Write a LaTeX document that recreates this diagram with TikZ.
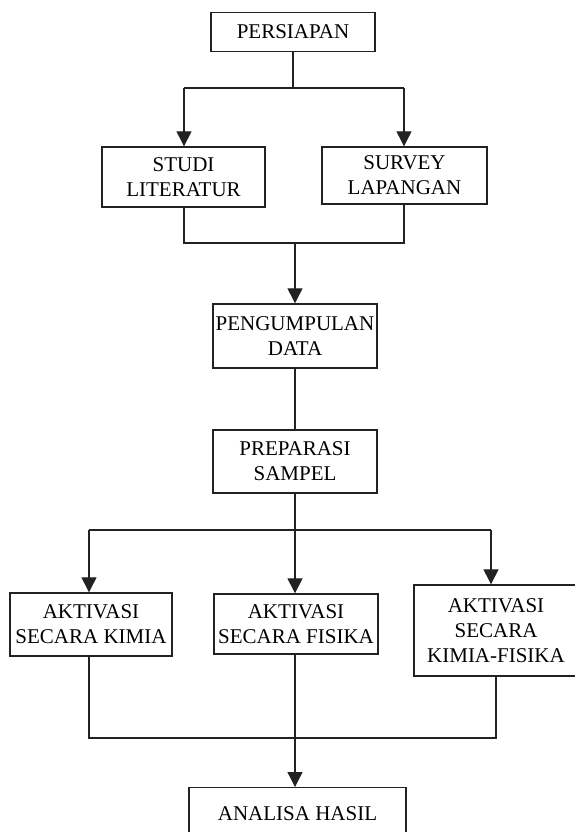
\documentclass[tikz,border=0pt]{standalone}
\usepackage{fontspec}
\setmainfont{Liberation Serif}
\usetikzlibrary{arrows.meta}
\definecolor{ink}{HTML}{222222}
\begin{document}
\begin{tikzpicture}[x=1pt,y=-1pt,
  box/.style={draw=ink,line width=1.4pt,rectangle,align=center,inner sep=0pt,
    font=\fontsize{21}{25}\selectfont,text=black},
  ln/.style={draw=ink,line width=1.3pt},
  arr/.style={ln,-{Triangle[length=15pt,width=15pt]}}]
\useasboundingbox (0,0) rectangle (575,832);
\fill[white] (0,0) rectangle (575,832);
% boxes
\node[box,minimum width=164pt,minimum height=39pt] (persiapan) at (293,32) {PERSIAPAN};
\node[box,minimum width=163pt,minimum height=60pt] (studi) at (183.5,177) {STUDI\\LITERATUR};
\node[box,minimum width=165pt,minimum height=57pt] (survey) at (404.5,175.5) {SURVEY\\LAPANGAN};
\node[box,minimum width=164pt,minimum height=64pt] (pengumpulan) at (295,336) {PENGUMPULAN\\DATA};
\node[box,minimum width=164pt,minimum height=63pt] (preparasi) at (295,461.5) {PREPARASI\\SAMPEL};
\node[box,minimum width=162pt,minimum height=63pt] (kimia) at (91,624.5) {AKTIVASI\\SECARA KIMIA};
\node[box,minimum width=164pt,minimum height=60pt] (fisika) at (296,624) {AKTIVASI\\SECARA FISIKA};
\node[box,minimum width=164pt,minimum height=91pt] (kf) at (496,630.5) {AKTIVASI\\SECARA\\KIMIA-FISIKA};
\node[box,minimum width=217pt,minimum height=60pt,anchor=north] (analisa) at (297.5,787) {};
\node[font=\fontsize{21}{25}\selectfont] (analisatxt) at (297.5,814) {ANALISA HASIL};
% junction coordinates
\coordinate (s1) at (293,88);
\coordinate (s1l) at (184,88);
\coordinate (s1r) at (404,88);
\coordinate (j1l) at (184,243);
\coordinate (j1r) at (404,243);
\coordinate (j1c) at (295,243);
\coordinate (s2l) at (89,530);
\coordinate (s2r) at (491,530);
\coordinate (j2l) at (89,738);
\coordinate (j2r) at (496,738);
\coordinate (j2c) at (295,738);
% connectors
\draw[ln] (persiapan.south) -- (s1);
\draw[ln] (s1l) -- (s1r);
\draw[arr] (s1l) -- (studi.north -| s1l);
\draw[arr] (s1r) -- (survey.north -| s1r);
\draw[ln] (studi.south -| j1l) -- (j1l) -- (j1r) -- (survey.south -| j1r);
\draw[arr] (j1c) -- (pengumpulan.north);
\draw[ln] (pengumpulan.south) -- (preparasi.north);
\draw[ln] (s2l) -- (s2r);
\draw[arr] (s2l) -- (kimia.north -| s2l);
\draw[arr] (preparasi.south) -- (fisika.north -| preparasi.south);
\draw[arr] (s2r) -- (kf.north -| s2r);
\draw[ln] (kimia.south -| j2l) -- (j2l) -- (j2r) -- (kf.south -| j2r);
\draw[arr] (fisika.south -| j2c) -- (analisa.north -| j2c);
\end{tikzpicture}
\end{document}
